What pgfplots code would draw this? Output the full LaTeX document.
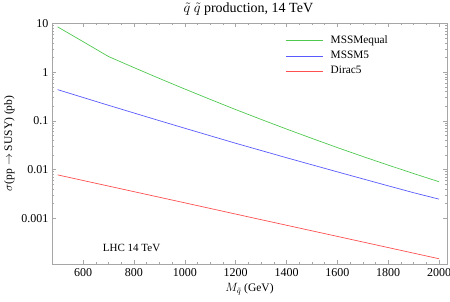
\documentclass[border=0pt]{standalone}
\usepackage{fontspec}
\setmainfont{Liberation Serif}
\usepackage{pgfplots}
\pgfplotsset{compat=1.18}
\definecolor{cgreen}{RGB}{80,200,80}
\definecolor{cblue}{RGB}{90,90,255}
\definecolor{cred}{RGB}{255,80,80}
\begin{document}
\begin{tikzpicture}
\begin{axis}[
  at={(0pt,0pt)}, anchor=south west,
  scale only axis, width=395pt, height=241pt,
  clip=false,
  ymode=log,
  xmin=478, xmax=2031, ymin=1.14e-4, ymax=10.2,
  xtick={600,800,...,2000},
  minor x tick num=3,
  ytick={0.001,0.01,0.1,1,10},
  yticklabels={0.001,0.01,0.1,1,10},
  /pgf/number format/assume math mode=true,
  /pgf/number format/1000 sep={},
  tick align=inside,
  major tick length=4pt, minor tick length=2pt,
  axis line style={gray!70},
  every tick/.style={gray!70},
  tick label style={font=\fontsize{12}{14}\selectfont, black},
  xticklabel style={yshift=-1pt},
  label style={font=\fontsize{11.5}{13}\selectfont},
  xlabel={$M_{\tilde{q}}$ (GeV)},
  ylabel={$\sigma$(pp $\rightarrow$ SUSY) (pb)},
  legend style={draw=none, fill=none, at={(0.592,0.955)}, anchor=north west,
    font=\fontsize{11.3}{13}\selectfont, row sep=2pt, column sep=5pt, inner sep=0pt},
  legend cell align=left,
  legend image code/.code={\draw[#1] (0pt,0pt) -- (37pt,0pt);},
]
\addplot[cgreen, line width=0.7pt] coordinates {
(500,8.5) (600,4.23) (700,2.09) (800,1.239) (900,0.741) (1000,0.449)
(1100,0.275) (1200,0.170) (1300,0.1067) (1400,0.0676) (1500,0.0434)
(1600,0.0281) (1700,0.01845) (1800,0.01225) (1900,0.00822) (2000,0.00558)};
\addlegendentry{MSSMequal}
\addplot[cblue, line width=0.7pt] coordinates {
(500,0.436) (600,0.301) (700,0.208) (800,0.1445) (900,0.1005) (1000,0.0702)
(1100,0.0492) (1200,0.0345) (1300,0.0245) (1400,0.0174) (1500,0.01245)
(1600,0.00891) (1700,0.00640) (1800,0.00460) (1900,0.00332) (2000,0.00245)};
\addlegendentry{MSSM5}
\addplot[cred, line width=0.7pt] coordinates {
(500,0.00773) (750,0.00399) (1000,0.00206) (1250,0.00106) (1500,0.000548)
(1750,0.000283) (2000,0.000146)};
\addlegendentry{Dirac5}
\node[anchor=west, font=\fontsize{11}{13}\selectfont] at (rel axis cs:0.12,0.068) {LHC 14 TeV};
\node[anchor=base, font=\fontsize{14}{16}\selectfont, yshift=10pt] at (rel axis cs:0.497,1) {$\tilde{q}$ $\tilde{q}$ production, 14 TeV};
\end{axis}
\pgfresetboundingbox
\useasboundingbox (-52pt,-38pt) rectangle (398pt,264pt);
\end{tikzpicture}
\end{document}
